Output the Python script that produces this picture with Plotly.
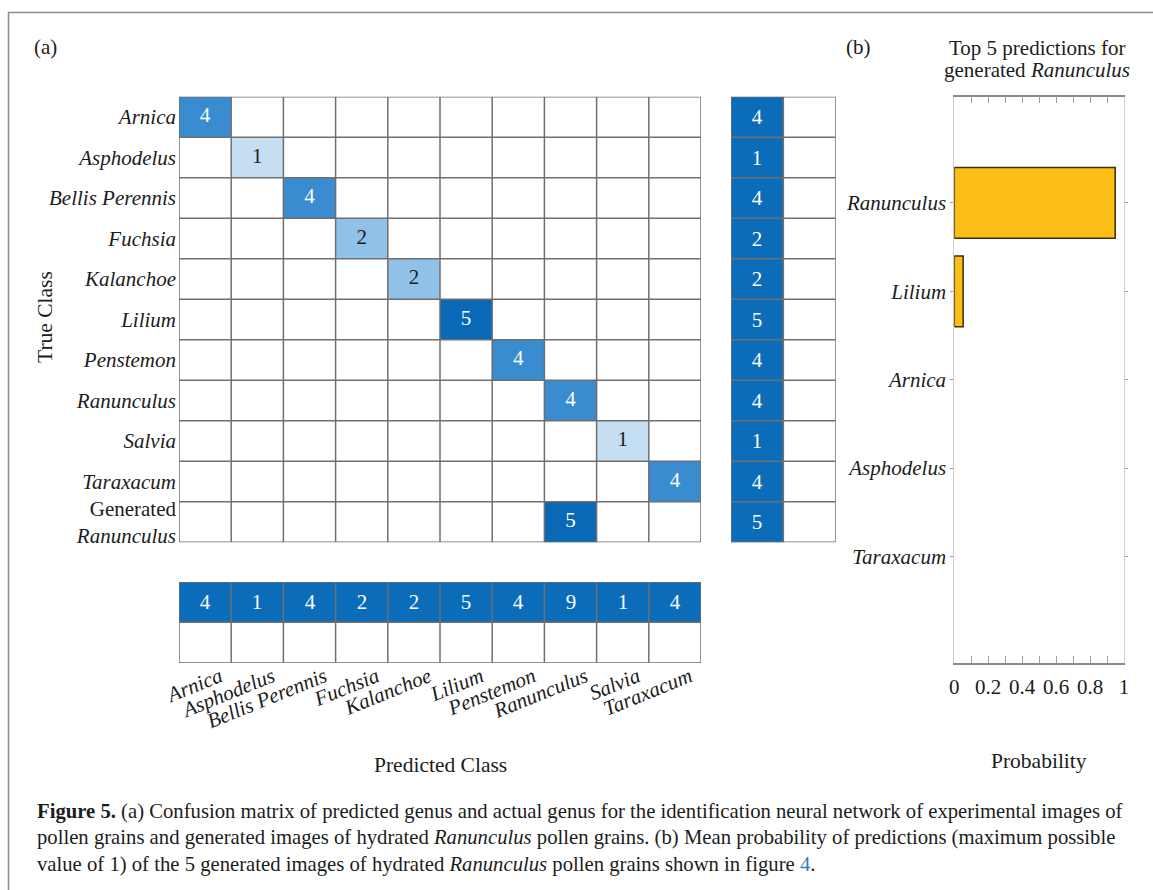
import plotly.graph_objects as go

# ---- data -------------------------------------------------------------
predicted_classes = ["Arnica", "Asphodelus", "Bellis Perennis", "Fuchsia", "Kalanchoe",
                     "Lilium", "Penstemon", "Ranunculus", "Salvia", "Taraxacum"]
true_classes = predicted_classes + ["Generated Ranunculus"]

# rows = true class, columns = predicted class
confusion = [
    [4, 0, 0, 0, 0, 0, 0, 0, 0, 0],
    [0, 1, 0, 0, 0, 0, 0, 0, 0, 0],
    [0, 0, 4, 0, 0, 0, 0, 0, 0, 0],
    [0, 0, 0, 2, 0, 0, 0, 0, 0, 0],
    [0, 0, 0, 0, 2, 0, 0, 0, 0, 0],
    [0, 0, 0, 0, 0, 5, 0, 0, 0, 0],
    [0, 0, 0, 0, 0, 0, 4, 0, 0, 0],
    [0, 0, 0, 0, 0, 0, 0, 4, 0, 0],
    [0, 0, 0, 0, 0, 0, 0, 0, 1, 0],
    [0, 0, 0, 0, 0, 0, 0, 0, 0, 4],
    [0, 0, 0, 0, 0, 0, 0, 5, 0, 0],
]
row_totals = [4, 1, 4, 2, 2, 5, 4, 4, 1, 4, 5]
col_totals = [4, 1, 4, 2, 2, 5, 4, 9, 1, 4]

top5_classes = ["Ranunculus", "Lilium", "Arnica", "Asphodelus", "Taraxacum"]
top5_prob = [0.948, 0.052, 0.0, 0.0, 0.0]

prob_ticks = [0, 0.2, 0.4, 0.6, 0.8, 1]
prob_minor = [0.1, 0.3, 0.5, 0.7, 0.9]

# ---- styling ----------------------------------------------------------
W, H = 1153, 890
SERIF = "Liberation Serif"
INK = "#1c1c1c"
GRID = "#6f6f6f"
SUM_BLUE = "#0b6cb9"
GOLD = "#fdbf17"


def fx(px):
    return px / W


def fy(px):
    return 1 - px / H


n_rows, n_cols = len(true_classes), len(predicted_classes)

row_ticktext = ["<i>%s</i>" % c for c in predicted_classes] + ["Generated<br><i>Ranunculus</i>"]
col_ticktext = ["<i>%s</i>" % c for c in predicted_classes]

matrix_scale = [
    [0.0, "#ffffff"], [0.1, "#ffffff"], [0.2, "#c6def2"],
    [0.4, "#90c1e8"], [0.8, "#3a8cd0"], [1.0, "#0a69b6"],
]
summary_scale = [[0.0, "#ffffff"], [0.01, SUM_BLUE], [1.0, SUM_BLUE]]

fig = go.Figure()

fig.add_trace(go.Heatmap(
    z=confusion, x=list(range(n_cols)), y=list(range(n_rows)),
    colorscale=matrix_scale, zmin=0, zmax=5, showscale=False,
    hoverinfo="skip", xaxis="x", yaxis="y",
))

# counts printed in the non-empty cells: dark ink on pale cells, white on strong ones
cx, cy, ct, cc = [], [], [], []
for r, row in enumerate(confusion):
    for c, v in enumerate(row):
        if v:
            cx.append(c)
            cy.append(r)
            ct.append(str(v))
            cc.append(INK if v <= 2 else "white")
fig.add_trace(go.Scatter(
    x=cx, y=cy, text=ct, mode="text",
    textfont=dict(family=SERIF, size=21, color=cc),
    hoverinfo="skip", xaxis="x", yaxis="y",
))

fig.add_trace(go.Heatmap(
    z=[[t, 0] for t in row_totals], x=[0, 1], y=list(range(n_rows)),
    colorscale=summary_scale, zmin=0, zmax=max(row_totals), showscale=False,
    text=[[str(t), ""] for t in row_totals], texttemplate="%{text}",
    textfont=dict(family=SERIF, size=21, color="white"),
    hoverinfo="skip", xaxis="x2", yaxis="y2",
))

fig.add_trace(go.Heatmap(
    z=[col_totals, [0] * n_cols], x=list(range(n_cols)), y=[0, 1],
    colorscale=summary_scale, zmin=0, zmax=max(col_totals), showscale=False,
    text=[[str(t) for t in col_totals], [""] * n_cols], texttemplate="%{text}",
    textfont=dict(family=SERIF, size=21, color="white"),
    hoverinfo="skip", xaxis="x3", yaxis="y3",
))

fig.add_trace(go.Bar(
    x=top5_prob, y=list(range(len(top5_classes))), orientation="h",
    marker=dict(color=GOLD,
                line=dict(color="#3a3000", width=[1.5 if p > 0 else 0 for p in top5_prob])),
    hoverinfo="skip", xaxis="x4", yaxis="y4",
))

# ---- cell borders for the three grids ----------------------------------
shapes = []


def grid(xref, yref, nx, ny):
    for i in range(nx + 1):
        shapes.append(dict(type="line", xref=xref, yref=yref, layer="above",
                           x0=i - 0.5, x1=i - 0.5, y0=-0.5, y1=ny - 0.5,
                           line=dict(color=GRID, width=1.5)))
    for j in range(ny + 1):
        shapes.append(dict(type="line", xref=xref, yref=yref, layer="above",
                           x0=-0.5, x1=nx - 0.5, y0=j - 0.5, y1=j - 0.5,
                           line=dict(color=GRID, width=1.5)))


grid("x", "y", n_cols, n_rows)
grid("x2", "y2", 2, n_rows)
grid("x3", "y3", n_cols, 2)

# figure frame
shapes.append(dict(type="rect", xref="paper", yref="paper", layer="below",
                   x0=fx(8.5), x1=fx(1170), y0=fy(905), y1=fy(12.5),
                   line=dict(color="#8c8c8c", width=1.5)))

hidden = dict(showgrid=False, zeroline=False, showticklabels=False, ticks="",
              showline=False, fixedrange=True, automargin=False)

mat_y = [fy(542.2), fy(96.7)]
mat_x = [fx(179), fx(701)]

fig.update_layout(
    width=W, height=H,
    margin=dict(l=0, r=0, t=0, b=0, autoexpand=False),
    paper_bgcolor="white", plot_bgcolor="white",
    font=dict(family=SERIF, color=INK, size=21),
    showlegend=False, bargap=0.2,
    xaxis=dict(hidden, domain=mat_x, range=[-0.5, n_cols - 0.5], anchor="y"),
    yaxis=dict(domain=mat_y, range=[n_rows - 0.5, -0.5], anchor="x",
               tickmode="array", tickvals=list(range(n_rows)), ticktext=row_ticktext,
               showgrid=False, zeroline=False, ticks="", showline=False, automargin=False,
               tickfont=dict(size=21, color=INK), ticklabelstandoff=2),
    xaxis2=dict(hidden, domain=[fx(731), fx(835.7)], range=[-0.5, 1.5], anchor="y2"),
    yaxis2=dict(hidden, domain=mat_y, range=[n_rows - 0.5, -0.5], anchor="x2"),
    xaxis3=dict(domain=mat_x, range=[-0.5, n_cols - 0.5], anchor="y3",
                tickmode="array", tickvals=list(range(n_cols)), ticktext=col_ticktext,
                tickangle=-22, showgrid=False, zeroline=False, ticks="", showline=False,
                automargin=False, tickfont=dict(size=21, color=INK),
                ticklabelstandoff=-3, ticklabelshift=15),
    yaxis3=dict(hidden, domain=[fy(662.7), fy(582)], range=[1.5, -0.5], anchor="x3"),
    xaxis4=dict(domain=[fx(954.3), fx(1124)], range=[0, 1], anchor="y4",
                tickmode="array", tickvals=prob_ticks,
                ticktext=[("%g" % v) for v in prob_ticks],
                ticks="inside", ticklen=7, tickcolor="#a0a0a0", tickwidth=1,
                minor=dict(tickmode="array", tickvals=prob_minor,
                           ticks="inside", ticklen=7, tickcolor="#a0a0a0", tickwidth=1),
                showline=True, linecolor="#8a8a8a", linewidth=1.5, mirror="allticks",
                showgrid=False, zeroline=False, automargin=False,
                tickfont=dict(size=21, color=INK), ticklabelstandoff=4),
    yaxis4=dict(domain=[fy(662.7), fy(96.7)], range=[len(top5_classes) + 0.2, -1.2],
                anchor="x4", tickmode="array", tickvals=list(range(len(top5_classes))),
                ticktext=["<i>%s</i>" % c for c in top5_classes],
                ticks="outside", ticklen=3, tickcolor="#9a9a9a",
                showline=True, linecolor="#cfcfcf", linewidth=1, mirror="allticks",
                showgrid=False, zeroline=False, automargin=False,
                tickfont=dict(size=21, color=INK)),
    shapes=shapes,
)

# ---- panel labels, titles and caption ---------------------------------
def note(text, x, y, size=21, **kw):
    fig.add_annotation(text=text, x=fx(x), y=fy(y), xref="paper", yref="paper",
                       showarrow=False, font=dict(family=SERIF, size=size, color=INK), **kw)


note("(a)", 45, 47, xanchor="center", yanchor="middle")
note("(b)", 858, 47, xanchor="center", yanchor="middle")
note("Top 5 predictions for", 1037, 48, xanchor="center", yanchor="middle")
note("generated <i>Ranunculus</i>", 1037, 70, xanchor="center", yanchor="middle")
note("True Class", 45, 317, size=21.5, textangle=-90, xanchor="center", yanchor="middle")
note("Predicted Class", 440, 765, size=21.5, xanchor="center", yanchor="middle")
note("Probability", 1039, 761, size=21.5, xanchor="center", yanchor="middle")

caption_lines = [
    "<b>Figure 5.</b> (a) Confusion matrix of predicted genus and actual genus for the "
    "identification neural network of experimental images of",
    "pollen grains and generated images of hydrated <i>Ranunculus</i> pollen grains. "
    "(b) Mean probability of predictions (maximum possible",
    "value of 1) of the 5 generated images of hydrated <i>Ranunculus</i> pollen grains "
    "shown in figure <span style='color:#2f7fc1'>4</span>.",
]
for k, line in enumerate(caption_lines):
    note(line, 35, 811 + 26.5 * k, size=20.7, xanchor="left", yanchor="middle")

fig.write_html("out.html")
